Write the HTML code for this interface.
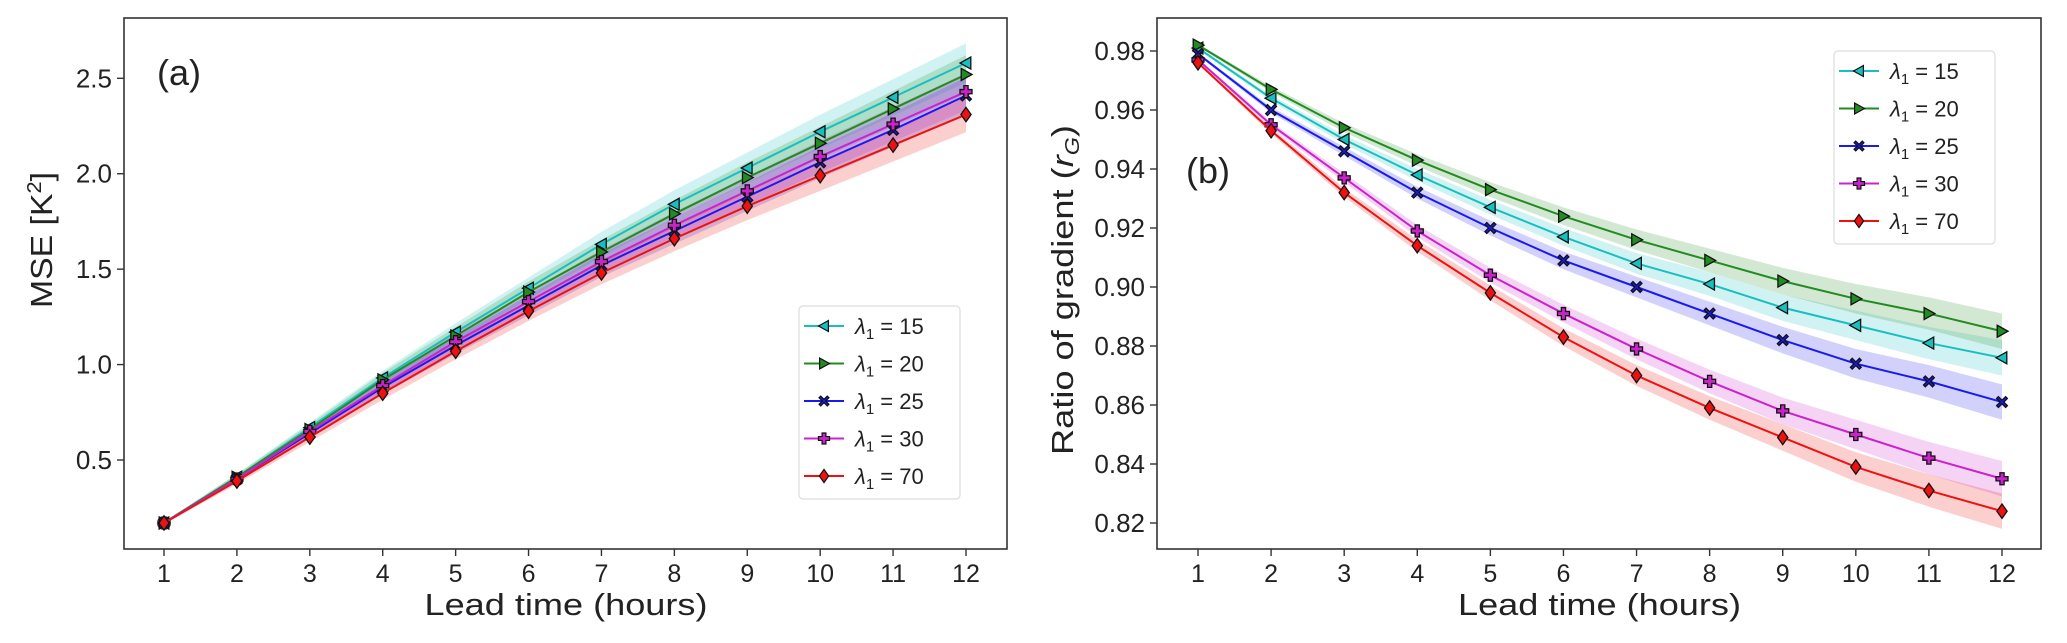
<!DOCTYPE html>
<html><head><meta charset="utf-8"><style>
html,body{margin:0;padding:0;background:#fff;}
svg text{font-family:"Liberation Sans","DejaVu Sans",sans-serif;fill:#222;}
</style></head><body>
<svg id="chart" width="2067" height="638" xmlns="http://www.w3.org/2000/svg"></svg>
<script>
const leadTimes=[1,2,3,4,5,6,7,8,9,10,11,12];
const seriesLabels=["15","20","25","30","70"];
const mse15=[0.17,0.41,0.67,0.93,1.17,1.40,1.63,1.84,2.03,2.22,2.40,2.58];
const mse20=[0.17,0.41,0.66,0.92,1.15,1.38,1.59,1.79,1.98,2.16,2.34,2.52];
const mse25=[0.17,0.40,0.64,0.88,1.10,1.31,1.52,1.70,1.88,2.06,2.23,2.41];
const mse30=[0.17,0.40,0.65,0.89,1.12,1.33,1.54,1.73,1.91,2.09,2.26,2.43];
const mse70=[0.17,0.39,0.62,0.85,1.07,1.28,1.48,1.66,1.83,1.99,2.15,2.31];
const rg15=[0.981,0.964,0.950,0.938,0.927,0.917,0.908,0.901,0.893,0.887,0.881,0.876];
const rg20=[0.982,0.967,0.954,0.943,0.933,0.924,0.916,0.909,0.902,0.896,0.891,0.885];
const rg25=[0.979,0.960,0.946,0.932,0.920,0.909,0.900,0.891,0.882,0.874,0.868,0.861];
const rg30=[0.977,0.955,0.937,0.919,0.904,0.891,0.879,0.868,0.858,0.850,0.842,0.835];
const rg70=[0.976,0.953,0.932,0.914,0.898,0.883,0.870,0.859,0.849,0.839,0.831,0.824];
const mseTicks=[0.5,1.0,1.5,2.0,2.5];
const rgTicks=[0.82,0.84,0.86,0.88,0.90,0.92,0.94,0.96,0.98];

const NS="http://www.w3.org/2000/svg";
const svg=document.getElementById('chart');
const colors=["#17bfbf","#228b22","#1a1aee","#cc22cc","#ee1111"];
const markers=["tl","tr","x","p","d"];
function mk(tag,attrs,parent){const e=document.createElementNS(NS,tag);for(const k in attrs)e.setAttribute(k,attrs[k]);(parent||svg).appendChild(e);return e;}
function markerPath(type,cx,cy,s){
  if(type==="tl")return `M${cx-s},${cy} L${cx+s*0.8},${cy-s} L${cx+s*0.8},${cy+s} Z`;
  if(type==="tr")return `M${cx+s},${cy} L${cx-s*0.8},${cy-s} L${cx-s*0.8},${cy+s} Z`;
  if(type==="d")return `M${cx},${cy-s*1.2} L${cx+s*0.85},${cy} L${cx},${cy+s*1.2} L${cx-s*0.85},${cy} Z`;
  if(type==="p"){const a=s*0.35,b=s;return `M${cx-a},${cy-b}H${cx+a}V${cy-a}H${cx+b}V${cy+a}H${cx+a}V${cy+b}H${cx-a}V${cy+a}H${cx-b}V${cy-a}H${cx-a}Z`;}
  const a=s*0.3,b=s*0.9;
  return `M${cx-b},${cy-b+a}L${cx-b+a},${cy-b}L${cx},${cy-a}L${cx+b-a},${cy-b}L${cx+b},${cy-b+a}L${cx+a},${cy}L${cx+b},${cy+b-a}L${cx+b-a},${cy+b}L${cx},${cy+a}L${cx-b+a},${cy+b}L${cx-b},${cy+b-a}L${cx-a},${cy}Z`;
}

function panel(cfg){
  const g=mk('g',{});
  
  
  const X=v=>cfg.x1+(v-1)*(cfg.x12-cfg.x1)/11;
  const Y=v=>cfg.yA+(v-cfg.vA)*(cfg.yB-cfg.yA)/(cfg.vB-cfg.vA);
  cfg.series.forEach((s,i)=>{
    let top=[],bot=[];
    leadTimes.forEach((t,j)=>{const w=cfg.band(s[j],j);top.push(`${X(t)},${Y(s[j]+w)}`);bot.unshift(`${X(t)},${Y(s[j]-w)}`);});
    const p=mk('polygon',{points:top.concat(bot).join(' '),fill:colors[i],'fill-opacity':0.2,stroke:'none'},g);
    
    
  });
  cfg.series.forEach((s,i)=>{
    const l=mk('polyline',{points:leadTimes.map((t,j)=>`${X(t)},${Y(s[j])}`).join(' '),fill:'none',stroke:colors[i],'stroke-width':2},g);
    
    
    leadTimes.forEach((t,j)=>{
      const m=mk('path',{d:markerPath(markers[i],X(t),Y(s[j]),6),fill:colors[i],stroke:'#111','stroke-width':1.3},g);
      
      
    });
  });
  const f=mk('rect',{x:cfg.L,y:18,width:cfg.R-cfg.L,height:549-18,fill:'none',stroke:'#333','stroke-width':1.6},g);
  
  
  leadTimes.forEach(t=>{
    mk('line',{x1:X(t),x2:X(t),y1:549,y2:556,stroke:'#333','stroke-width':1.4},g);
    const tx=mk('text',{x:X(t),y:582,'font-size':25,'text-anchor':'middle'},g);tx.textContent=t;
    
    
  });
  cfg.ticks.forEach(v=>{
    mk('line',{x1:cfg.L-7,x2:cfg.L,y1:Y(v),y2:Y(v),stroke:'#333','stroke-width':1.4},g);
    const tx=mk('text',{x:cfg.L-12,y:Y(v)+9,'font-size':26,'text-anchor':'end'},g);tx.textContent=cfg.fmt(v);
    
    
  });
  const xl=mk('text',{x:(cfg.L+cfg.R)/2-141,y:615,'font-size':31,textLength:283,lengthAdjust:'spacingAndGlyphs'},g);xl.textContent='Lead time (hours)';
  
  
  const yl=mk('text',{x:-cfg.ylen/2,y:0,'font-size':31,textLength:cfg.ylen,lengthAdjust:'spacingAndGlyphs',transform:`translate(${cfg.ylx},${cfg.yly}) rotate(-90)`},g);
  yl.innerHTML=cfg.ylabel;
  
  
  const pl=mk('text',{x:cfg.plx,y:cfg.ply,'font-size':36},g);pl.textContent=cfg.tag;
  
  
  const lg=mk('g',{},g);
  
  
  mk('rect',{x:cfg.lgx,y:cfg.lgy,width:161,height:193,rx:4,fill:'#fff','fill-opacity':0.85,stroke:'#ddd','stroke-width':1.2},lg);
  seriesLabels.forEach((lab,i)=>{
    const ey=cfg.lgy+20+i*37.5;
    const e=mk('g',{},lg);
    
    
    mk('line',{x1:cfg.lgx+5,x2:cfg.lgx+45,y1:ey,y2:ey,stroke:colors[i],'stroke-width':2},e);
    mk('path',{d:markerPath(markers[i],cfg.lgx+25,ey,5.5),fill:colors[i],stroke:'#111','stroke-width':1.2},e);
    const t=mk('text',{x:cfg.lgx+56,y:ey+8,'font-size':22},e);
    t.innerHTML=`<tspan font-style="italic">λ</tspan><tspan font-size="15" dy="5">1</tspan><tspan dy="-5"> = ${lab}</tspan>`;
  });
}
panel({name:'mse-panel',L:124,R:1007,x1:164,x12:966,yA:460,vA:0.5,yB:78.3,vB:2.5,
  series:[mse15,mse20,mse25,mse30,mse70],band:(v,j)=>0.04*v,ticks:mseTicks,fmt:v=>v.toFixed(1),
  ylabel:'MSE [K<tspan font-size="20" dy="-11">2</tspan><tspan dy="11">]</tspan>',ylen:136,ylx:52,yly:240,tag:'(a)',plx:157,ply:85,lgx:799,lgy:306});
panel({name:'ratio-panel',L:1157,R:2041,x1:1198,x12:2002,yA:523,vA:0.82,yB:51,vB:0.98,
  series:[rg15,rg20,rg25,rg30,rg70],band:(v,j)=>0.0005*j+0.0005,ticks:rgTicks,fmt:v=>v.toFixed(2),
  ylabel:'Ratio of gradient (<tspan font-style="italic">r</tspan><tspan font-style="italic" font-size="20" dy="6">G</tspan><tspan dy="-6">)</tspan>',ylen:330,ylx:1073,yly:290,tag:'(b)',plx:1186,ply:183,lgx:1834,lgy:51});
</script>
</body></html>
